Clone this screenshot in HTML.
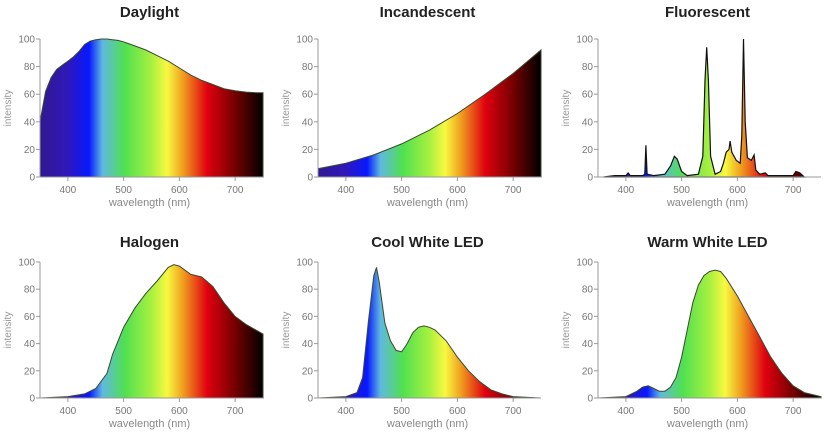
<!DOCTYPE html>
<html><head><meta charset="utf-8"><style>
body{margin:0;background:#fff;width:824px;height:434px;overflow:hidden;font-family:"Liberation Sans",sans-serif}
svg{display:block}
</style></head><body>
<svg id="c" width="824" height="434"></svg>
<script>
const titles=["Daylight","Incandescent","Fluorescent","Halogen","Cool White LED","Warm White LED"];
const xTicks=[400,500,600,700];
const yTicks=[0,20,40,60,80,100];
const daylightWl=[350,360,370,380,390,400,410,420,430,440,450,460,470,480,490,500,520,540,560,580,600,620,640,660,680,700,720,740,750];
const daylightI=[40,62,72,78,81,84,87,91,96,98.5,99.5,100,100,99.5,99,98,95,92,88,84,79,74,70,67,64,62.5,61.5,61,61];
const incWl=[350,400,450,500,550,600,650,700,750];
const incI=[6,10,16,24,34,46,60,75,92];
const fluoWl=[360,380,400,404,408,430,434,436,438,450,470,480,487,492,500,510,530,538,542,545,548,552,560,570,575,580,585,587,590,598,605,608,611,614,618,625,630,633,640,650,655,700,705,712,720];
const fluoI=[0,1,1,3,1,1,2,23,2,1,2,8,15,13,4,1,2,15,70,94,70,15,2,4,10,18,20,26,18,12,10,30,100,40,14,12,16,5,2,3,1,1,4,3,0];
const halWl=[350,400,430,450,470,480,500,520,540,560,580,590,600,620,640,660,680,700,720,750];
const halI=[0,1,3,7,18,32,52,66,77,86,96,98,97,91,89,82,70,60,54,47];
const coolWl=[350,400,420,430,440,450,455,460,470,480,490,500,510,520,530,540,550,560,580,600,620,640,660,680,700,750];
const coolI=[0,1,4,15,55,90,96,85,55,42,35,34,40,48,52,53,52,50,42,30,20,12,6,3,1,0];
const warmWl=[350,400,420,430,440,450,460,470,480,490,500,510,520,530,540,550,560,570,580,600,620,640,660,680,700,720,750];
const warmI=[0,1,5,8,9,7,5,5,8,15,30,50,70,83,90,93,94,93,88,75,60,45,30,18,9,4,1];
const series=[[daylightWl,daylightI],[incWl,incI],[fluoWl,fluoI],[halWl,halI],[coolWl,coolI],[warmWl,warmI]];
const NS="http://www.w3.org/2000/svg";
const svg=document.getElementById('c');
const colX=[40,318,598], rowTop=[39,262], rowBot=[177,398], W=223;
const stops=[[0,"#301890"],[0.12,"#3018b8"],[0.22,"#0818ff"],[0.28,"#60b8e0"],[0.38,"#50e050"],[0.5,"#a8f040"],[0.57,"#f8f840"],[0.64,"#f0a020"],[0.75,"#e00010"],[0.88,"#700000"],[1,"#000"]];
function mk(t,a,p){const e=document.createElementNS(NS,t);for(const k in a)e.setAttribute(k,a[k]);(p||svg).appendChild(e);return e;}
const defs=mk('defs',{});
series.forEach((s,i)=>{
  const col=i%3,row=Math.floor(i/3);
  const x0=colX[col],yt=rowTop[row],yb=rowBot[row];
  const X=w=>x0+(w-350)/400*W, Y=v=>yb-(v/100)*(yb-yt);
  const g=mk('g',{});
  
  
  const gr=mk('linearGradient',{id:'gr'+i,gradientUnits:'userSpaceOnUse',x1:X(350),x2:X(750),y1:0,y2:0},defs);
  stops.forEach(st=>mk('stop',{offset:st[0],'stop-color':st[1]},gr));
  const t=mk('text',{x:x0+W/2-2,y:row?247:17,'text-anchor':'middle','font-size':15,'font-weight':'bold',fill:'#222'},g);
  t.textContent=titles[i];
  
  
  let d='M'+X(s[0][0])+','+Y(0);
  s[0].forEach((w,j)=>{d+=' L'+X(w).toFixed(1)+','+Y(s[1][j]).toFixed(1);});
  d+=' L'+X(s[0][s[0].length-1])+','+Y(0)+'Z';
  const a=mk('path',{d:d,fill:'url(#gr'+i+')',stroke:i==2?'#111':'#3a4a30','stroke-width':i==2?1.2:1},g);
  
  
  mk('line',{x1:x0,x2:x0,y1:yt,y2:yb,stroke:'#999'},g);
  mk('line',{x1:x0,x2:x0+W,y1:yb,y2:yb,stroke:'#999'},g);
  yTicks.forEach(v=>{
    mk('line',{x1:x0-4,x2:x0,y1:Y(v),y2:Y(v),stroke:'#999'},g);
    const l=mk('text',{x:x0-5,y:Y(v)+3.5,'text-anchor':'end','font-size':10,fill:'#777'},g);
    l.textContent=v;
    
    
  });
  xTicks.forEach(v=>{
    mk('line',{x1:X(v),x2:X(v),y1:yb,y2:yb+4,stroke:'#999'},g);
    const l=mk('text',{x:X(v),y:yb+16,'text-anchor':'middle','font-size':10,fill:'#777'},g);
    l.textContent=v;
    
    
  });
  const xl=mk('text',{x:x0+W/2-2,y:yb+29,'text-anchor':'middle','font-size':11,fill:'#888'},g);
  xl.textContent='wavelength (nm)';
  
  
  const yl=mk('text',{x:0,y:0,'text-anchor':'middle','font-size':10,fill:'#999',transform:`translate(${x0-29},${(yt+yb)/2}) rotate(-90)`},g);
  yl.textContent='intensity';
  
  
});
</script>
</body></html>
